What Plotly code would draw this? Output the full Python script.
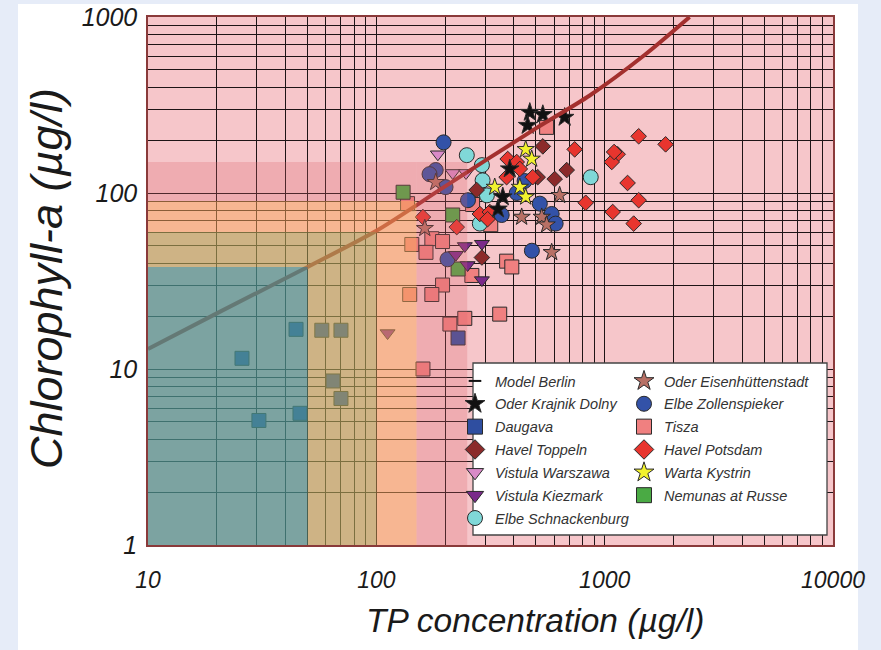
import plotly.graph_objects as go

# ---------------- data (TP µg/l, Chlorophyll-a µg/l) ----------------
model_tp = [10, 20, 50, 100, 200, 500, 860, 1500, 2355]
model_chl = [13, 20.7, 38, 61, 109, 233, 358, 610, 1000]

oder_krajnik_tp = [470, 536, 460, 668, 384, 358, 341]
oder_krajnik_chl = [287, 279, 242, 269, 137, 95, 81]

daugava_tp = [44.5, 25.8, 30.6, 46.3, 57.7, 70, 64.6, 70, 228]
daugava_chl = [16.8, 11.5, 5.1, 5.6, 16.6, 16.6, 8.55, 6.8, 15]

havel_toppeln_tp = [536, 682, 604, 509, 275, 290]
havel_toppeln_chl = [184, 135, 120, 123, 104, 43]

vistula_warszawa_tp = [186, 216, 247]
vistula_warszawa_chl = [166, 130, 130]

vistula_kiezmark_tp = [244, 290, 223, 251, 290, 112]
vistula_kiezmark_chl = [50, 51.5, 44.6, 39, 32, 16]

elbe_schnackenburg_tp = [249, 290, 292, 305, 284, 869]
elbe_schnackenburg_chl = [164, 144, 118, 97, 67, 123]

oder_eisen_tp = [182, 163, 433, 530, 557, 635, 586]
oder_eisen_chl = [115, 63, 73, 73, 66, 97, 46]

elbe_zollen_tp = [197, 182, 171, 201, 252, 446, 412, 520, 354, 586, 610, 480, 205]
elbe_zollen_chl = [194, 135, 128, 108, 91, 117, 100, 87, 75, 76, 67, 47, 42]

tisza_tp = [557, 137, 264, 317, 175, 195, 143, 165, 372, 392, 262, 195, 140, 175, 210, 244, 347, 160]
tisza_chl = [236, 87, 86, 66, 55, 53, 51, 46, 41, 38, 34, 30, 26.5, 26.5, 18, 19.4, 20.5, 10]

havel_potsdam_tp = [1409, 1849, 739, 1140, 1074, 1100, 1260, 1409, 826, 1084, 1340,
                    376, 412, 425, 484, 372, 284, 314, 307, 225, 160]
havel_potsdam_chl = [210, 189, 177, 166, 150, 171, 114, 91, 88, 78, 67,
                     156, 150, 137, 123, 123, 76, 78, 71, 64, 73]

warta_tp = [451, 479, 330, 425, 451]
warta_chl = [177, 156, 108, 108, 95]

nemunas_tp = [131, 216, 228]
nemunas_chl = [101, 75, 37]

x_ticks = [10, 100, 1000, 10000]
x_ticktext = ["10", "100", "1000", "10000"]
y_ticks = [1, 10, 100, 1000]
y_ticktext = ["1", "10", "100", "1000"]
x_minor = [k * 10 ** d for d in (1, 2, 3) for k in range(2, 10)]
y_minor = [k * 10 ** d for d in (0, 1, 2) for k in range(2, 10)]

# trophic class zones: (x0, x1, y0, y1, rgba)
zones = [
    (150, 250, 1, 150, "rgba(222,100,108,0.26)"),
    (10, 150, 90, 150, "rgba(222,100,108,0.26)"),
    (100, 150, 1, 90, "rgba(248,165,90,0.50)"),
    (10, 100, 60, 90, "rgba(248,165,90,0.50)"),
    (50, 100, 1, 60, "rgba(180,168,90,0.62)"),
    (10, 50, 38, 60, "rgba(180,168,90,0.62)"),
    (10, 50, 1, 38, "rgba(76,150,145,0.72)"),
]

# ---------------- layout geometry ----------------
W, H = 881, 650
ML, MR, MT, MB = 148, 48, 17, 105
PW, PH = W - ML - MR, H - MT - MB


def px_x(p):
    return (p - ML) / PW


def px_y(p):
    return (H - MB - p) / PH


FONT = "Liberation Sans, Arial, sans-serif"
OUTLINE = dict(color="#2a2a2a", width=1)

series = [
    # name, tp, chl, symbol, color, size, legend
    ("Tisza", tisza_tp, tisza_chl, "square", "#f08080", 14, "legend2"),
    ("Daugava", daugava_tp, daugava_chl, "square", "#2f4ea0", 14, "legend"),
    ("Nemunas at Russe", nemunas_tp, nemunas_chl, "square", "#4aaa44", 14, "legend2"),
    ("Elbe Zollenspieker", elbe_zollen_tp, elbe_zollen_chl, "circle", "#3352a8", 15, "legend2"),
    ("Elbe Schnackenburg", elbe_schnackenburg_tp, elbe_schnackenburg_chl, "circle", "#80d8d8", 15, "legend"),
    ("Vistula Warszawa", vistula_warszawa_tp, vistula_warszawa_chl, "triangle-down", "#d98ac8", 13, "legend"),
    ("Vistula Kiezmark", vistula_kiezmark_tp, vistula_kiezmark_chl, "triangle-down", "#7a2a8a", 13, "legend"),
    ("Havel Toppeln", havel_toppeln_tp, havel_toppeln_chl, "diamond", "#8b2a2a", 12, "legend"),
    ("Havel Potsdam", havel_potsdam_tp, havel_potsdam_chl, "diamond", "#e8352e", 12, "legend2"),
    ("Oder Eisenhüttenstadt", oder_eisen_tp, oder_eisen_chl, "star", "#b87065", 13, "legend2"),
    ("Oder Krajnik Dolny", oder_krajnik_tp, oder_krajnik_chl, "star", "#111111", 14, "legend"),
    ("Warta Kystrin", warta_tp, warta_chl, "star", "#f2f22e", 13, "legend2"),
]
style = {s[0]: s for s in series}

fig = go.Figure()

for name, tp, chl, sym, col, size, lg in series:
    fig.add_trace(go.Scatter(
        x=tp, y=chl, mode="markers", name=name, showlegend=False,
        marker=dict(symbol=sym, color=col, size=size, line=OUTLINE),
    ))

fig.add_trace(go.Scatter(
    x=model_tp, y=model_chl, mode="lines", name="Model Berlin", showlegend=False,
    line=dict(color="#a3302e", width=4, shape="spline", smoothing=0.8),
))

# legend-only entries in column order
col1 = ["Oder Krajnik Dolny", "Daugava", "Havel Toppeln", "Vistula Warszawa",
        "Vistula Kiezmark", "Elbe Schnackenburg"]
col2 = ["Oder Eisenhüttenstadt", "Elbe Zollenspieker", "Tisza", "Havel Potsdam",
        "Warta Kystrin", "Nemunas at Russe"]

fig.add_trace(go.Scatter(
    x=[None], y=[None], mode="markers", name="Model Berlin", legend="legend",
    legendgroup="g0",
    marker=dict(symbol="line-ew", size=9, color="#111", line=dict(color="#111", width=2)),
))
for i, nm in enumerate(col1 + col2):
    _, _, _, sym, col, size, lg = style[nm]
    fig.add_trace(go.Scatter(
        x=[None], y=[None], mode="markers", name=nm, legend=lg,
        legendgroup="g%d" % (i + 1),
        marker=dict(symbol=sym, color=col, size=15, line=OUTLINE),
    ))

shapes = []
# light-blue page frame around a white sheet
BLUE = "#e6ecf8"
shapes.append(dict(type="rect", xref="paper", yref="paper", layer="below",
                   x0=px_x(-10), x1=px_x(18), y0=px_y(700), y1=px_y(-10),
                   fillcolor=BLUE, line_width=0))
shapes.append(dict(type="rect", xref="paper", yref="paper", layer="below",
                   x0=px_x(858), x1=px_x(900), y0=px_y(700), y1=px_y(-10),
                   fillcolor=BLUE, line_width=0))
shapes.append(dict(type="rect", xref="paper", yref="paper", layer="below",
                   x0=px_x(-10), x1=px_x(900), y0=px_y(4), y1=px_y(-10),
                   fillcolor=BLUE, line_width=0))

for x0, x1, y0, y1, c in zones:
    shapes.append(dict(type="rect", xref="x", yref="y", layer="above",
                       x0=x0, x1=x1, y0=y0, y1=y1, fillcolor=c, line_width=0))

# legend box
shapes.append(dict(type="rect", xref="paper", yref="paper", layer="above",
                   x0=px_x(473), x1=px_x(827), y0=px_y(535), y1=px_y(363),
                   fillcolor="white", line=dict(color="#444", width=1.3)))

GRID = "#1e1416"
x_tick_font = dict(family=FONT, size=23, color="#1a1a1a", style="italic")
y_tick_font = dict(family=FONT, size=25, color="#1a1a1a", style="italic")

fig.update_layout(
    width=W, height=H,
    margin=dict(l=ML, r=MR, t=MT, b=MB, pad=0),
    paper_bgcolor="white",
    plot_bgcolor="#f6c6ca",
    shapes=shapes,
    xaxis=dict(
        type="log", range=[1, 4], tickmode="array", tickvals=x_ticks, ticktext=x_ticktext,
        showgrid=True, gridcolor=GRID, gridwidth=1.4,
        minor=dict(tickmode="array", tickvals=x_minor, showgrid=True,
                   gridcolor=GRID, gridwidth=1.4, ticks=""),
        showline=True, linecolor="#8a3a3a", linewidth=1.5, mirror=True,
        ticks="", tickfont=x_tick_font, ticklabelstandoff=14, zeroline=False,
        automargin=False,
    ),
    yaxis=dict(
        type="log", range=[0, 3], tickmode="array", tickvals=y_ticks, ticktext=y_ticktext,
        showgrid=True, gridcolor=GRID, gridwidth=1.4,
        minor=dict(tickmode="array", tickvals=y_minor, showgrid=True,
                   gridcolor=GRID, gridwidth=1.4, ticks=""),
        showline=True, linecolor="#8a3a3a", linewidth=1.5, mirror=True,
        ticks="", tickfont=y_tick_font, ticklabelstandoff=4, zeroline=False,
        automargin=False,
    ),
    legend=dict(x=px_x(455), y=px_y(365), xanchor="left", yanchor="top",
                bgcolor="rgba(0,0,0,0)", borderwidth=0, traceorder="grouped",
                tracegroupgap=1,
                font=dict(family=FONT, size=14.5, color="#333", style="italic")),
    legend2=dict(x=px_x(624), y=px_y(365), xanchor="left", yanchor="top",
                 bgcolor="rgba(0,0,0,0)", borderwidth=0, traceorder="grouped",
                 tracegroupgap=1,
                 font=dict(family=FONT, size=14.5, color="#333", style="italic")),
    annotations=[
        dict(text="TP concentration (µg/l)", xref="paper", yref="paper",
             x=px_x(535), y=px_y(620), xanchor="center", yanchor="middle",
             showarrow=False,
             font=dict(family=FONT, size=33.5, color="#1a1a1a", style="italic")),
        dict(text="Chlorophyll-a (µg/l)", xref="paper", yref="paper",
             x=px_x(46), y=px_y(279), xanchor="center", yanchor="middle",
             showarrow=False, textangle=-90,
             font=dict(family=FONT, size=45, color="#1a1a1a", style="italic")),
    ],
)

fig.write_html("out.html",
               config={"displayModeBar": False},
               post_script="document.body.style.margin='0';document.body.style.background='#e6ecf8';")
